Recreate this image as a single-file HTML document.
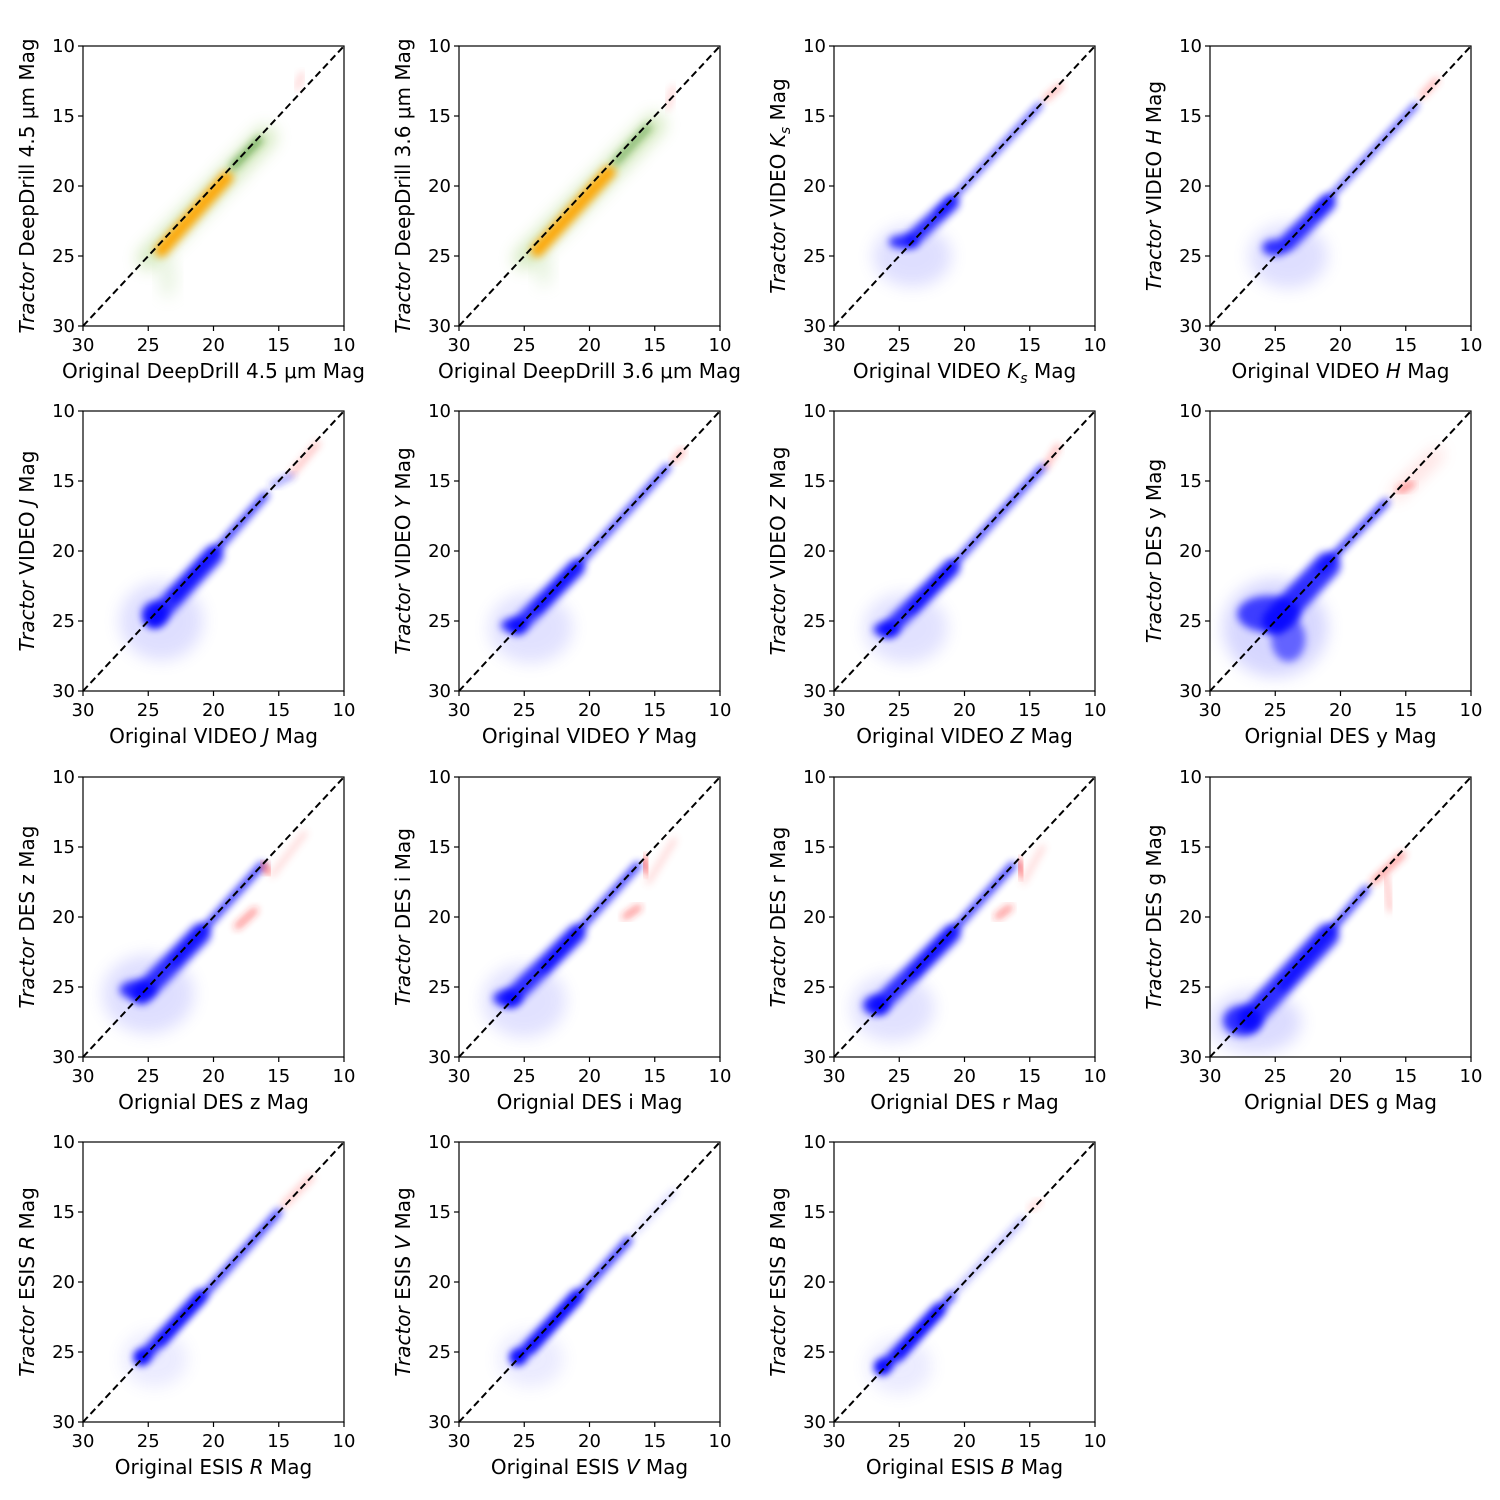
<!DOCTYPE html>
<html><head><meta charset="utf-8"><style>
html,body{margin:0;padding:0;background:#fff}
svg{display:block;font-family:"DejaVu Sans","Liberation Sans",sans-serif}
</style></head><body>
<svg id="fig" width="1500" height="1500" viewBox="0 0 1500 1500" xmlns="http://www.w3.org/2000/svg">
<defs>
<filter id="blur" x="-50%" y="-50%" width="200%" height="200%"><feGaussianBlur stdDeviation="4"/></filter>
<filter id="blur2" x="-50%" y="-50%" width="200%" height="200%"><feGaussianBlur stdDeviation="8"/></filter>
</defs>
</svg>
<script>
const NS="http://www.w3.org/2000/svg";
const svg=document.getElementById('fig');
const lefts=[83,459,834,1210], tops=[46,411,777,1142];
const PW=261, PH=280;
const ticks=[30,25,20,15,10];
const yLabels=[
'<tspan font-style="italic">Tractor</tspan> DeepDrill 4.5 μm Mag',
'<tspan font-style="italic">Tractor</tspan> DeepDrill 3.6 μm Mag',
'<tspan font-style="italic">Tractor</tspan> VIDEO <tspan font-style="italic">K</tspan><tspan font-style="italic" font-size="14" dy="5">s</tspan><tspan dy="-5"> Mag</tspan>',
'<tspan font-style="italic">Tractor</tspan> VIDEO <tspan font-style="italic">H</tspan> Mag',
'<tspan font-style="italic">Tractor</tspan> VIDEO <tspan font-style="italic">J</tspan> Mag',
'<tspan font-style="italic">Tractor</tspan> VIDEO <tspan font-style="italic">Y</tspan> Mag',
'<tspan font-style="italic">Tractor</tspan> VIDEO <tspan font-style="italic">Z</tspan> Mag',
'<tspan font-style="italic">Tractor</tspan> DES y Mag',
'<tspan font-style="italic">Tractor</tspan> DES z Mag',
'<tspan font-style="italic">Tractor</tspan> DES i Mag',
'<tspan font-style="italic">Tractor</tspan> DES r Mag',
'<tspan font-style="italic">Tractor</tspan> DES g Mag',
'<tspan font-style="italic">Tractor</tspan> ESIS <tspan font-style="italic">R</tspan> Mag',
'<tspan font-style="italic">Tractor</tspan> ESIS <tspan font-style="italic">V</tspan> Mag',
'<tspan font-style="italic">Tractor</tspan> ESIS <tspan font-style="italic">B</tspan> Mag'];
const xLabels=[
'Original DeepDrill 4.5 μm Mag','Original DeepDrill 3.6 μm Mag',
'Original VIDEO <tspan font-style="italic">K</tspan><tspan font-style="italic" font-size="14" dy="5">s</tspan><tspan dy="-5"> Mag</tspan>',
'Original VIDEO <tspan font-style="italic">H</tspan> Mag',
'Original VIDEO <tspan font-style="italic">J</tspan> Mag',
'Original VIDEO <tspan font-style="italic">Y</tspan> Mag',
'Original VIDEO <tspan font-style="italic">Z</tspan> Mag',
'Orignial DES y Mag','Orignial DES z Mag','Orignial DES i Mag','Orignial DES r Mag','Orignial DES g Mag',
'Original ESIS <tspan font-style="italic">R</tspan> Mag','Original ESIS <tspan font-style="italic">V</tspan> Mag','Original ESIS <tspan font-style="italic">B</tspan> Mag'];
// segments per panel: [origMag1, tractorMag1, origMag2, tractorMag2, widthMag, color, opacity, blurLevel]
const segments=[
[[25,25.2,16,16.5,1.6,'#7fbf3f',0.35,2],[24,24.6,19,19.4,1.0,'#ffa500',0.95,1],[18.5,18.6,16.5,16.7,0.5,'#3a8a1a',0.7,1],[13.6,13,13.2,12,0.3,'#ff6060',0.4,1]],
[[25,25.2,15,15.6,1.6,'#7fbf3f',0.35,2],[24,24.6,18.5,19,1.0,'#ffa500',0.95,1],[18,18.3,15.5,15.8,0.5,'#3a8a1a',0.6,1],[14,14.4,13.6,13,0.3,'#ff6060',0.4,1]],
[[24,23.8,21,21.2,1.2,'#0000ff',0.8,1],[22,22,14.2,14.2,0.35,'#0000ff',0.9,1],[13.8,13.8,12.6,12.8,0.3,'#ff4040',0.6,1]],
[[24,24,21,21.2,1.3,'#0000ff',0.8,1],[22,22,14.2,14.2,0.35,'#0000ff',0.9,1],[13.8,13.6,12.6,12.4,0.3,'#ff4040',0.6,1]],
[[24.5,24.8,20,20.3,1.5,'#0000ff',0.8,1],[23,23.3,16,16,0.5,'#0000ff',0.9,1],[15.5,15.3,14,14.6,0.3,'#3030ff',0.8,1],[14,14.5,12,12.3,0.3,'#ff4040',0.5,1]],
[[25.5,25.4,21,21.2,1.3,'#0000ff',0.8,1],[24,24.2,14,14,0.45,'#0000ff',0.9,1],[13.6,13.6,12.8,12.8,0.3,'#ff4040',0.6,1]],
[[25.8,25.6,21,21.2,1.3,'#0000ff',0.8,1],[24,24.2,14,14,0.45,'#0000ff',0.9,1],[13.8,14,12.8,12.5,0.3,'#ff4040',0.6,1]],
[[25,25,21,21,2.0,'#0000ff',0.8,1],[21.5,21.3,16.5,16.5,0.5,'#0000ff',0.9,1],[15.8,16,12.5,13,0.6,'#ff6060',0.35,2],[15.5,15.7,14.5,15.2,0.35,'#ff3030',0.7,1]],
[[25.5,25.5,21,21.2,1.6,'#0000ff',0.8,1],[23,23.2,16.3,16.3,0.5,'#0000ff',0.9,1],[16.2,16.2,15.8,16.8,0.4,'#ff2020',0.8,1],[18.2,20.7,16.8,19.5,0.35,'#ff2020',0.7,1],[15.5,17,13,14,0.35,'#ff6060',0.3,1]],
[[26,25.8,21,21.2,1.4,'#0000ff',0.8,1],[23.5,23.7,16.3,16.3,0.5,'#0000ff',0.9,1],[15.8,15.8,15.6,16.8,0.4,'#ff2020',0.8,1],[17.3,20,16.2,19.3,0.35,'#ff2020',0.7,1],[15.5,17.5,13.5,14.5,0.35,'#ff6060',0.3,1]],
[[26.5,26.3,21,21.2,1.4,'#0000ff',0.8,1],[24,24.2,16.3,16.3,0.5,'#0000ff',0.9,1],[15.8,16,15.6,17,0.4,'#ff2020',0.8,1],[17.5,20,16.5,19.3,0.35,'#ff2020',0.7,1],[15.5,17.5,14,15,0.35,'#ff6060',0.3,1]],
[[27,27.3,21,21.3,1.8,'#0000ff',0.8,1],[24.5,25,18,18,0.5,'#0000ff',0.9,1],[17.5,17.5,15.2,15.5,0.35,'#ff3030',0.7,1],[16.5,17.2,16.2,19.5,0.3,'#ff5050',0.5,1]],
[[25.5,25.5,21,21,1.0,'#0000ff',0.85,1],[24,24.3,15,15,0.5,'#0000ff',0.9,1],[14.6,14.5,12.5,12.5,0.45,'#ff6060',0.4,1]],
[[25.5,25.5,21,21,1.0,'#0000ff',0.85,1],[24.5,24.8,17,17,0.55,'#0000ff',0.9,1],[16.5,16.5,13.5,13.5,0.35,'#8080ff',0.4,1]],
[[26.3,26.2,22,22,1.0,'#0000ff',0.85,1],[25,25.3,21,21,0.55,'#0000ff',0.9,1],[21,21,15.5,15.5,0.35,'#3030ff',0.5,1],[15,14.8,14.2,14.2,0.3,'#ff6060',0.4,1]]];
// blobs per panel: [origMag, tractorMag, sigmaOrig, sigmaTractor, color, opacity, blurLevel]
const blobs=[
[[23.5,26.5,0.6,1.5,'#9fcf7f',0.25,2]],
[[23.5,26,0.6,1.2,'#9fcf7f',0.25,2]],
[[24.7,24,1.1,0.5,'#0000ff',0.85,1],[24,25,3.0,2.2,'#6060ff',0.2,2]],
[[25,24.4,1.0,0.6,'#0000ff',0.85,1],[24,25,3.0,2.3,'#6060ff',0.2,2]],
[[24.5,24.5,1.0,0.9,'#0000ff',0.85,1],[24,25,3.2,2.8,'#6060ff',0.2,2]],
[[25.8,25.3,1.0,0.5,'#0000ff',0.85,1],[24.5,25.5,3.2,2.5,'#6060ff',0.18,2]],
[[26,25.6,1.0,0.5,'#0000ff',0.85,1],[24.5,25.5,3.2,2.5,'#6060ff',0.18,2]],
[[25.5,24.5,2.4,1.3,'#0000ff',0.8,1],[24,26.3,1.3,1.6,'#0000ff',0.6,1],[25,25.5,4,3.5,'#6060ff',0.25,2]],
[[25.8,25.2,1.4,0.7,'#0000ff',0.85,1],[25,25.5,3.5,2.8,'#6060ff',0.2,2]],
[[26.3,25.8,1.1,0.6,'#0000ff',0.85,1],[25,26,3.2,2.6,'#6060ff',0.18,2]],
[[26.8,26.3,1.0,0.7,'#0000ff',0.85,1],[25.5,26.5,3.2,2.4,'#6060ff',0.18,2]],
[[27.5,27.4,1.5,1.1,'#0000ff',0.85,1],[26.5,27.5,3.5,2.2,'#6060ff',0.22,2]],
[[25.5,25.3,0.6,0.5,'#0000ff',0.85,1],[24.5,25.5,2.5,2.0,'#6060ff',0.12,2]],
[[25.5,25.3,0.6,0.5,'#0000ff',0.85,1],[24.5,25.5,2.5,2.0,'#6060ff',0.12,2]],
[[26.3,26,0.6,0.5,'#0000ff',0.85,1],[25,26,2.5,2.0,'#6060ff',0.12,2]]];

function el(tag,attrs,parent){const e=document.createElementNS(NS,tag);for(const k in attrs)e.setAttribute(k,attrs[k]);(parent||svg).appendChild(e);return e;}

for(let p=0;p<15;p++){
  const L=lefts[p%4], T=tops[Math.floor(p/4)];
  const sx=m=>L+(30-m)*PW/20;
  const sy=m=>T+(m-10)*PH/20;
  const g=el('g',{});
  
  
  const cid='clip'+p;
  const cp=el('clipPath',{id:cid},g);el('rect',{x:L,y:T,width:PW,height:PH},cp);
  const plot=el('g',{'clip-path':'url(#'+cid+')'},g);
  
  
  for(const b of blobs[p]){
    const e=el('ellipse',{cx:sx(b[0]),cy:sy(b[1]),rx:b[2]*PW/20,ry:b[3]*PH/20,fill:b[4],opacity:b[5],filter:b[6]==2?'url(#blur2)':'url(#blur)'},plot);
    
    
  }
  for(const s of segments[p]){
    const l=el('line',{x1:sx(s[0]),y1:sy(s[1]),x2:sx(s[2]),y2:sy(s[3]),stroke:s[5],'stroke-width':s[4]*PW/20,'stroke-linecap':'round',opacity:s[6],filter:s[7]==2?'url(#blur2)':'url(#blur)'},plot);
    
    
  }
  const d=el('line',{x1:sx(30),y1:sy(30),x2:sx(10),y2:sy(10),stroke:'#000','stroke-width':2,'stroke-dasharray':'7,4'},g);
  
  
  const fr=el('rect',{x:L,y:T,width:PW,height:PH,fill:'none',stroke:'#000','stroke-width':1.2},g);
  
  
  for(const t of ticks){
    el('line',{x1:sx(t),y1:T+PH,x2:sx(t),y2:T+PH+5,stroke:'#000','stroke-width':1.2},g);
    const tx=el('text',{x:sx(t),y:T+PH+25,'text-anchor':'middle','font-size':18},g);tx.textContent=t;
    
    
    el('line',{x1:L-5,y1:sy(t),x2:L,y2:sy(t),stroke:'#000','stroke-width':1.2},g);
    const ty=el('text',{x:L-8,y:sy(t)+6,'text-anchor':'end','font-size':18},g);ty.textContent=t;
    
    
  }
  const xl=el('text',{x:L+PW/2,y:T+PH+52,'text-anchor':'middle','font-size':20},g);
  xl.innerHTML=xLabels[p];
  
  
  const yl=el('text',{x:0,y:0,'text-anchor':'middle','font-size':20,transform:'translate('+(L-49)+','+(T+PH/2)+') rotate(-90)'},g);
  yl.innerHTML=yLabels[p];
  
  
}
</script>
</body></html>
